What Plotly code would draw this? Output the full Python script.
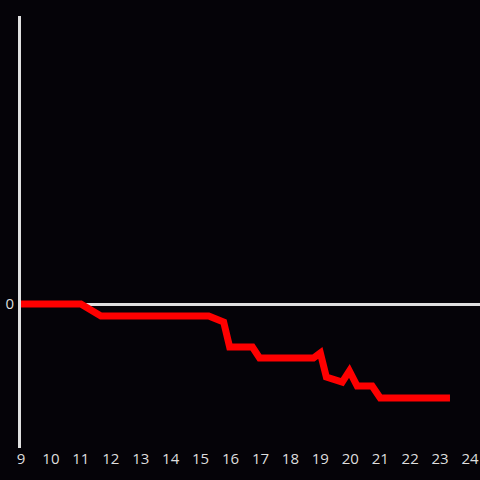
import plotly.graph_objects as go

# hours of the day and running value
hours = [9.0, 11.0, 11.67, 15.27, 15.77, 15.97, 16.73, 16.97, 18.77, 19.0,
         19.2, 19.73, 19.97, 20.23, 20.73, 21.0, 23.33]
values = [0, 0, -8.3, -8.3, -12.5, -29.9, -29.9, -37.5, -37.5, -34.0,
          -50.7, -54.2, -46.5, -57.0, -57.0, -65.3, -65.3]

x_ticks = list(range(9, 25))

fig = go.Figure(go.Scatter(
    x=hours, y=values,
    mode="lines",
    line=dict(color="#ff0000", width=7),
    hoverinfo="skip",
    cliponaxis=False,
))

fig.update_layout(
    width=480, height=480,
    paper_bgcolor="#050308",
    plot_bgcolor="#050308",
    showlegend=False,
    margin=dict(l=21, r=0, t=16, b=32),
    font=dict(family="Open Sans", size=15, color="#dedede"),
    xaxis=dict(
        range=[9, 24.333],
        tickvals=x_ticks,
        showgrid=False, zeroline=False, showline=False,
        ticks="", fixedrange=True,
    ),
    yaxis=dict(
        range=[-100, 200],
        tickvals=[0],
        showgrid=False,
        zeroline=True, zerolinecolor="#e0e0e0", zerolinewidth=3,
        showline=True, linecolor="#e0e0e0", linewidth=3,
        ticks="", ticklabelstandoff=1, fixedrange=True,
    ),
)

fig.write_html(
    "out.html",
    config={"displayModeBar": False},
    post_script="document.body.style.margin='0';"
                "document.body.style.background='#050308';",
)
